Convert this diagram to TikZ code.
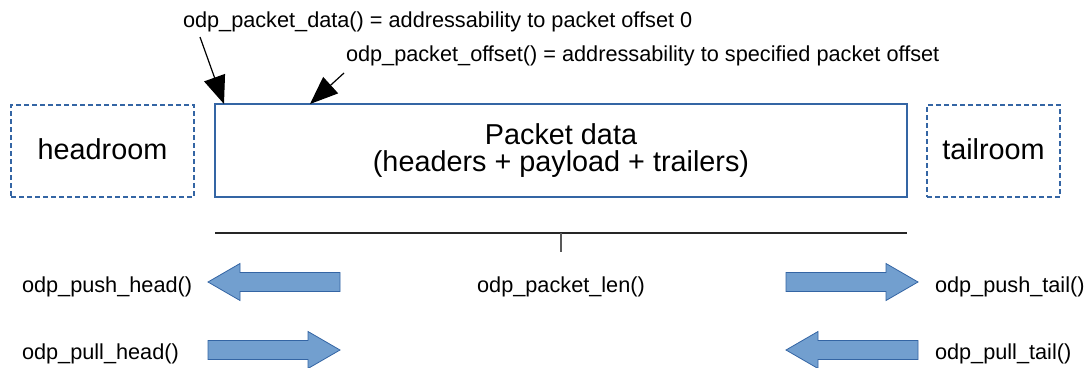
\documentclass[tikz,border=0pt]{standalone}
\usepackage{fontspec}
\setmainfont{Liberation Sans}
\usetikzlibrary{arrows.meta,calc}

\definecolor{lineblue}{HTML}{3465A4}
\definecolor{fillblue}{HTML}{729FCF}

\newcommand\pktbigfont{\fontsize{28.8}{27}\selectfont}
\newcommand\pktsmallfont{\fontsize{21.7}{26}\selectfont}

\tikzset{
  room/.style={draw=lineblue, line width=2.6pt, dash pattern=on 5pt off 3pt,
    minimum height=92pt, inner sep=0pt, outer sep=0pt, font=\pktbigfont,
    text height=21pt, text depth=5pt},
  databox/.style={draw=lineblue, line width=2pt, minimum width=692pt,
    minimum height=93pt, inner sep=0pt, outer sep=0pt, align=center,
    font=\pktbigfont},
  lbl/.style={inner sep=0pt, outer sep=0pt, font=\pktsmallfont},
  pointer/.style={draw=black, line width=1.2pt,
    -{Triangle[length=28pt,width=22pt]}},
  lenline/.style={draw=black!85, line width=1.2pt},
  fnblock/.pic={
    \draw[line width=0.8pt, draw=lineblue, fill=fillblue]
      (0,-9.5) -- (100,-9.5) -- (100,-18.5) -- (132,0) -- (100,18.5)
      -- (100,9.5) -- (0,9.5) -- cycle;
  }
}

\begin{document}
\begin{tikzpicture}[x=1pt,y=-1pt]
  \useasboundingbox (0,0) rectangle (1089,367);

  % buffer layout: headroom | packet data | tailroom
  \node[room, minimum width=183pt] (head) at (102.5,151) {headroom};
  \node[databox] (pkt) at (561,150.5) {Packet data\\(headers + payload + trailers)};
  \node[room, minimum width=133pt] (tail) at (993.5,151) {tailroom};

  % addressability labels with pointers into the data area
  \node[lbl, anchor=base west] (datafn) at (183,27)
    {odp\_packet\_data() = addressability to packet offset 0};
  \node[lbl, anchor=base west] (offfn) at (346,61)
    {odp\_packet\_offset() = addressability to specified packet offset};
  \draw[pointer] ($(datafn.base west)+(17,10)$) -- ($(pkt.north west)+(9,0)$);
  \draw[pointer] ($(offfn.base west)+(-2,12)$) -- ($(pkt.north west)+(95,0)$);

  % packet length bracket
  \coordinate (lenL) at ($(pkt.south west)+(0,36)$);
  \coordinate (lenR) at ($(pkt.south east)+(0,36)$);
  \coordinate (lenM) at ($(lenL)!0.5!(lenR)$);
  \draw[lenline] (lenL) -- (lenR);
  \draw[lenline, draw=black!65] (lenM) -- ++(0,19);
  \node[lbl, anchor=base] (lenfn) at (561,292) {odp\_packet\_len()};

  % head/tail adjustment functions
  \node[lbl, anchor=base west] (pushhead) at (22,292) {odp\_push\_head()};
  \node[lbl, anchor=base west] (pullhead) at (22,359) {odp\_pull\_head()};
  \node[lbl, anchor=base west] (pushtail) at (935,292) {odp\_push\_tail()};
  \node[lbl, anchor=base west] (pulltail) at (935,359) {odp\_pull\_tail()};

  \pic[rotate=180] at (340,282) {fnblock};
  \pic at (208,350) {fnblock};
  \pic at (786,282) {fnblock};
  \pic[rotate=180] at (918,350) {fnblock};
\end{tikzpicture}
\end{document}
